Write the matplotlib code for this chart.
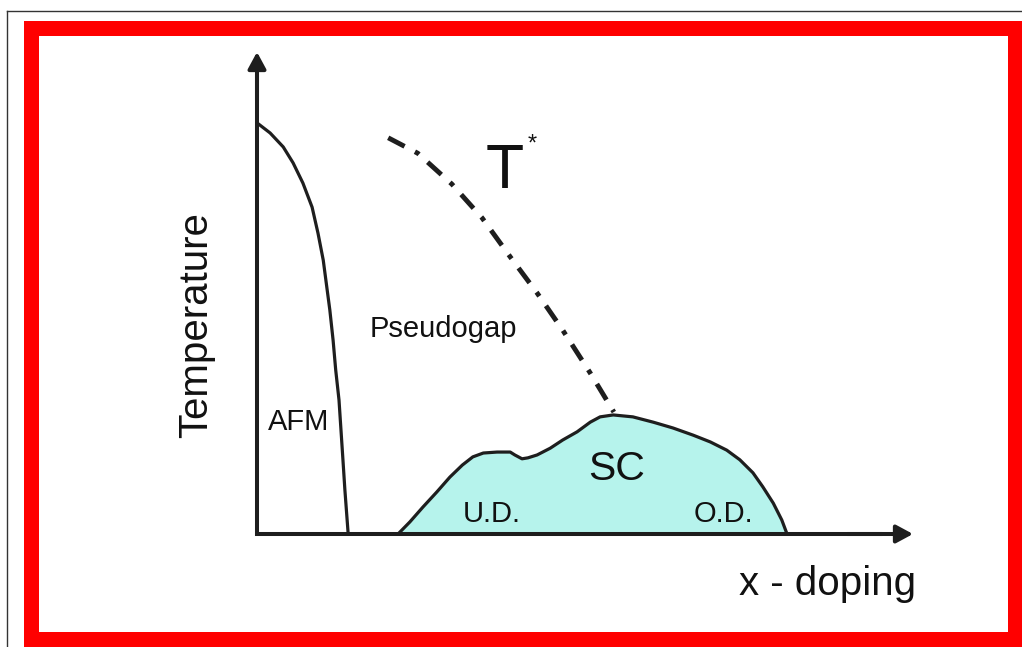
import numpy as np
import matplotlib
matplotlib.use('Agg')
import matplotlib.pyplot as plt
from matplotlib.patches import Rectangle

plt.rcParams['font.family'] = ['Liberation Sans', 'DejaVu Sans']

# Phase diagram curves (doping, temperature) in arbitrary units
afm_x = [0.000, 0.020, 0.040, 0.055, 0.070, 0.084, 0.093, 0.101, 0.107, 0.111,
         0.116, 0.120, 0.125, 0.128, 0.131, 0.134, 0.139]
afm_t = [0.853, 0.832, 0.803, 0.770, 0.728, 0.678, 0.624, 0.568, 0.506, 0.465,
         0.402, 0.340, 0.278, 0.216, 0.154, 0.091, 0.0]

sc_x = [0.215, 0.233, 0.253, 0.274, 0.294, 0.313, 0.329, 0.345, 0.366, 0.386, 0.393,
        0.404, 0.413, 0.427, 0.447, 0.466, 0.488, 0.508, 0.523, 0.543, 0.573, 0.604,
        0.634, 0.665, 0.691, 0.716, 0.736, 0.756, 0.771, 0.787, 0.800, 0.808]
sc_t = [0.0, 0.025, 0.056, 0.087, 0.118, 0.143, 0.160, 0.168, 0.170, 0.170, 0.164,
        0.156, 0.158, 0.164, 0.178, 0.195, 0.212, 0.232, 0.243, 0.247, 0.243, 0.232,
        0.220, 0.205, 0.191, 0.174, 0.154, 0.127, 0.098, 0.064, 0.029, 0.0]

tstar_x = [0.200, 0.245, 0.297, 0.343, 0.386, 0.427, 0.466, 0.508, 0.544]
tstar_t = [0.822, 0.790, 0.726, 0.656, 0.575, 0.500, 0.423, 0.334, 0.253]

W, H = 1022, 647
fig = plt.figure(figsize=(W / 100, H / 100), dpi=100)
fig.patch.set_facecolor('white')

# frame layer (pixel coords)
bg = fig.add_axes([0, 0, 1, 1])
bg.set_xlim(0, W)
bg.set_ylim(H, 0)
bg.axis('off')
bg.plot([7, W + 5], [11, 11], color='#333333', lw=1.0)
bg.plot([7, 7], [11, H + 5], color='#333333', lw=1.0)
bg.add_patch(Rectangle((30.5, 27.5), 984, 611.5, fill=False, edgecolor='#ff0000',
                       lw=15 * 0.72, joinstyle='miter'))

# diagram axes
ax = fig.add_axes([257 / W, 113 / H, 656 / W, 482 / H])
ax.set_xlim(0, 1)
ax.set_ylim(0, 1)
ax.axis('off')
ink = '#1e1e1e'

ax.fill(sc_x, sc_t, color='#b6f3ec', zorder=1)
ax.plot(sc_x, sc_t, color=ink, lw=2.3, zorder=2, solid_joinstyle='round')
ax.plot(afm_x, afm_t, color=ink, lw=2.3, zorder=2, solid_joinstyle='round')
ax.plot(tstar_x, tstar_t, color=ink, lw=3.5, zorder=2,
        linestyle=(0, (3.8, 2.4, 1.0, 2.4)), dash_capstyle='butt')

# axes with arrow heads
ax.plot([0, 0, 0.95], [0.95, 0, 0], color=ink, lw=2.9, solid_joinstyle='miter',
        clip_on=False, zorder=3)
arrow = dict(arrowstyle='-|>,head_length=0.5,head_width=0.27', lw=2.9, color=ink,
             mutation_scale=20, shrinkA=0, shrinkB=0)
ax.annotate('', xy=(1.0, 0), xytext=(0.9, 0), arrowprops=arrow, annotation_clip=False)
ax.annotate('', xy=(0, 1.0), xytext=(0, 0.9), arrowprops=arrow, annotation_clip=False)

ax.text(-0.093, 0.434, 'Temperature', rotation=90, fontsize=29, ha='center', va='center',
        color='#111111')
ax.text(0.870, -0.127, 'x - doping', fontsize=29, ha='center', va='baseline', color='#111111')
ax.text(0.348, 0.718, 'T', fontsize=45, ha='left', va='baseline', color='#111111')
ax.text(0.413, 0.795, '*', fontsize=17, ha='left', va='baseline', color='#111111')
ax.text(0.172, 0.409, 'Pseudogap', fontsize=21, ha='left', va='baseline', color='#111111')
ax.text(0.017, 0.216, 'AFM', fontsize=21, ha='left', va='baseline', color='#111111')
ax.text(0.505, 0.112, 'SC', fontsize=29.5, ha='left', va='baseline', color='#111111')
ax.text(0.314, 0.025, 'U.D.', fontsize=21, ha='left', va='baseline', color='#111111')
ax.text(0.665, 0.025, 'O.D.', fontsize=21, ha='left', va='baseline', color='#111111')

fig.savefig('out.png', dpi=100)
